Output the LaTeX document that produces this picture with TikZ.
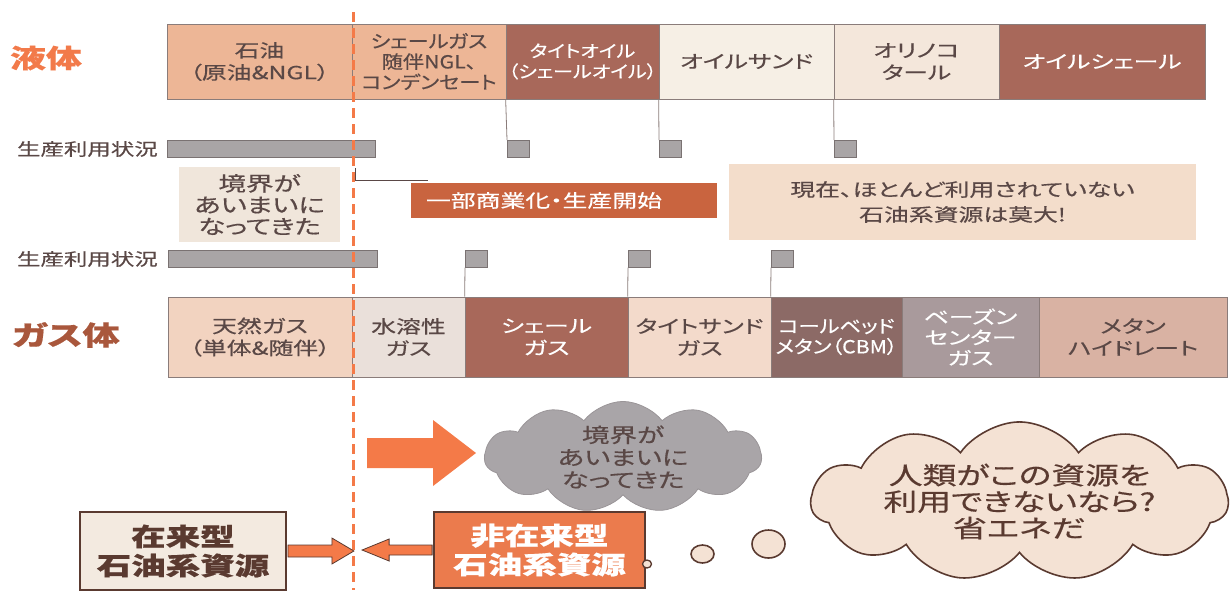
\documentclass[tikz,border=0pt]{standalone}
\usepackage{fontspec}
\setmainfont{Noto Sans CJK JP}[FakeStretch=1.38,RawFeature={+palt;embolden=0.5}]
\newfontfamily\cellfont{Noto Sans CJK JP}[FakeStretch=1.18,RawFeature={+palt;embolden=0.5}]
\usetikzlibrary{shapes.symbols,shapes.geometric,calc}
\definecolor{cPeach}{HTML}{EDB696}
\definecolor{cBrown}{HTML}{A8685A}
\definecolor{cSand}{HTML}{F6EFE5}
\definecolor{cTar}{HTML}{F4E7DB}
\definecolor{cGas}{HTML}{F2D3C0}
\definecolor{cWater}{HTML}{EAE0DA}
\definecolor{cTight}{HTML}{F3DACB}
\definecolor{cCBM}{HTML}{8C6A66}
\definecolor{cBasin}{HTML}{A99A9C}
\definecolor{cHydrate}{HTML}{D9B2A3}
\definecolor{cLine}{HTML}{8A7C7A}
\definecolor{cText}{HTML}{5A4846}
\definecolor{cBar}{HTML}{A9A5A6}
\definecolor{cBarLine}{HTML}{7A7272}
\definecolor{cComm}{HTML}{C9643F}
\definecolor{cNow}{HTML}{F3DDCB}
\definecolor{cAmb}{HTML}{F0E6DB}
\definecolor{cCloud}{HTML}{A9A5A8}
\definecolor{cCloudLine}{HTML}{9A9598}
\definecolor{cThink}{HTML}{F4E2D4}
\definecolor{cDark}{HTML}{5A3A30}
\definecolor{cOrange}{HTML}{F47A48}
\definecolor{cLiq}{HTML}{F27A4A}
\definecolor{cGasLab}{HTML}{A9573C}
\definecolor{cConv}{HTML}{F3EAE0}
\definecolor{cUnconv}{HTML}{EB7B4D}
\begin{document}
\begin{tikzpicture}[x=1pt,y=-1pt,
  cell/.style={rectangle,draw=cLine,line width=0.7pt,inner sep=0pt,align=center,
    text=cText,font=\fontsize{18}{22}\selectfont},
  narrow/.style={font=\cellfont\fontsize{18}{20.5}\selectfont},
  lcell/.style={cell,minimum height=75pt},
  gcell/.style={cell,minimum height=80pt},
  wtext/.style={text=white},
  bar/.style={rectangle,draw=cBarLine,fill=cBar,line width=0.7pt,inner sep=0pt,
    anchor=north west,minimum height=17pt},
  sq/.style={bar,minimum width=22pt},
  lab/.style={text=cText,inner sep=0pt,font=\fontsize{17}{20}\selectfont},
  conn/.style={draw=cLine,line width=0.8pt},
  dashline/.style={draw=cOrange,line width=3pt,dash pattern=on 10pt off 6pt},
  note/.style={rectangle,inner sep=0pt,align=center,font=\fontsize{18}{21}\selectfont},
  smarrow/.style={fill=cOrange,draw=cDark,line width=0.8pt,line join=miter},
  bubble/.style={ellipse,fill=cThink,draw=cDark,line width=1.6pt,inner sep=0pt},
  bigbox/.style={rectangle,draw=cDark,line width=1.8pt,inner sep=0pt,align=center,
    font=\bfseries\fontsize{25}{29}\selectfont}
]
\useasboundingbox (0,0) rectangle (1230,590);

% side labels
\node[text=cLiq,font=\bfseries\fontsize{26}{30}\selectfont,inner sep=0pt] (liq) at (46,58) {液体};
\node[text=cGasLab,font=\bfseries\fontsize{27}{30}\selectfont,inner sep=0pt] (gasl) at (66,335) {ガス体};

% liquid row
\node[lcell,fill=cPeach,minimum width=185pt] (l1) at (259.5,61.5) {石油\\（原油\&NGL）};
\node[lcell,narrow,fill=cPeach,minimum width=154pt,text width=152pt] (l2) at (429,61.5) {シェールガス\\随伴NGL、\\コンデンセート};
\node[lcell,fill=cBrown,wtext,minimum width=153pt,text width=151pt,
  font=\cellfont\fontsize{17}{20.5}\selectfont] (l3) at (582.5,61.5) {タイトオイル\\（シェールオイル）};
\node[lcell,fill=cSand,minimum width=175pt] (l4) at (746.5,61.5) {オイルサンド};
\node[lcell,fill=cTar,minimum width=165pt] (l5) at (916.5,61.5) {オリノコ\\タール};
\node[lcell,fill=cBrown,wtext,minimum width=206pt] (l6) at (1102,61.5) {オイルシェール};

% status row 1
\node[lab,anchor=east] (st1) at (158,149) {生産利用状況};
\node[bar,minimum width=208pt] (b1) at (167,140) {};
\node[sq] (s1) at (507,140) {};
\node[sq] (s2) at (659,140) {};
\node[sq] (s3) at (834,140) {};
\draw[conn] (l3.south west) -- (s1.north west);
\draw[conn] (l4.south west) -- (s2.north west);
\draw[conn] (l5.south west) -- (s3.north west);

% middle notes
\node[note,fill=cAmb,text=cText,minimum width=161pt,minimum height=75pt,
  font=\fontsize{20}{21.5}\selectfont] (amb) at (259.5,204.5) {境界が\\あいまいに\\なってきた};
\node[note,fill=cComm,text=white,text width=276pt,inner xsep=15pt,align=left,
  minimum height=35pt] (comm) at (564,200.5) {一部商業化・生産開始};
\node[note,fill=cNow,text=cText,minimum width=467pt,minimum height=76pt,
  font=\fontsize{18}{25}\selectfont] (now) at (962.5,202) {現在、ほとんど利用されていない\\石油系資源は莫大!};
\coordinate (la) at (355,168);
\coordinate (lb) at (428,180);
\draw[draw=cText,line width=1pt] (la) |- (lb);

% status row 2
\node[lab,anchor=east] (st2) at (158,259) {生産利用状況};
\node[bar,minimum width=209pt] (b2) at (168,250) {};
\node[sq] (sg1) at (465,250) {};
\node[sq] (sg2) at (628,250) {};
\node[sq] (sg3) at (771,250) {};

% gas row
\node[gcell,fill=cGas,minimum width=184pt] (g1) at (260,337) {天然ガス\\（単体\&随伴）};
\node[gcell,fill=cWater,minimum width=113pt] (g2) at (408.5,337) {水溶性\\ガス};
\node[gcell,fill=cBrown,wtext,minimum width=163pt] (g3) at (546.5,337) {シェール\\ガス};
\node[gcell,fill=cTight,minimum width=143pt,text width=141pt] (g4) at (699.5,337) {タイトサンド\\ガス};
\node[gcell,narrow,fill=cCBM,wtext,minimum width=131pt,text width=129pt] (g5) at (836.5,337) {コールベッド\\メタン（CBM）};
\node[gcell,fill=cBasin,wtext,minimum width=137pt,font=\fontsize{18}{20.5}\selectfont] (g6) at (970.5,337) {ベーズン\\センター\\ガス};
\node[gcell,fill=cHydrate,minimum width=188pt] (g7) at (1133,337) {メタン\\ハイドレート};
\draw[conn] (sg1.south west) -- (g3.north west);
\draw[conn] (sg2.south west) -- (g4.north west);
\draw[conn] (sg3.south west) -- (g5.north west);

% dashed boundary
\coordinate (dtop) at (353,12);
\coordinate (dbot) at (353,590);
\draw[dashline] (dtop) -- (dbot);

% big arrow
\fill[cOrange] (367,438) -- (433,438) -- (433,420) -- (476,453) -- (433,486) -- (433,468) -- (367,468) -- cycle;

% gray cloud
\node[cloud,cloud puffs=11,cloud puff arc=105,cloud ignores aspect,
  fill=cCloud,draw=cCloudLine,line width=0.8pt,minimum width=277pt,minimum height=93pt,
  inner sep=0pt,align=center,text=cText,font=\fontsize{20}{22.5}\selectfont] (gc) at (623,457)
  {境界が\\あいまいに\\なってきた};

% bottom boxes
\node[bigbox,fill=cConv,text=cDark,minimum width=206pt,minimum height=78pt] (zr) at (183,551) {在来型\\石油系資源};
\node[bigbox,fill=cUnconv,text=white,minimum width=211pt,minimum height=76pt] (nz) at (539.5,550) {非在来型\\石油系資源};

\draw[smarrow] ($(zr.east)+(1,-6)$) -- ++(44,0) -- ++(0,-7) -- ++(22,13) -- ++(-22,13) -- ++(0,-7) -- ++(-44,0) -- cycle;
\draw[smarrow] ($(nz.west)+(-1,-5)$) -- ++(-43,0) -- ++(0,-6) -- ++(-27,11) -- ++(27,11) -- ++(0,-6) -- ++(43,0) -- cycle;

% thought bubbles
\node[bubble,line width=1.3pt,minimum width=9pt,minimum height=8pt] (c1) at (647,564) {};
\node[bubble,minimum width=23pt,minimum height=18pt] (c2) at (702.5,554) {};
\node[bubble,minimum width=33pt,minimum height=28pt] (c3) at (768.5,544) {};
\node[cloud,cloud puffs=11,cloud puff arc=110,cloud ignores aspect,
  fill=cThink,draw=cDark,line width=1.6pt,minimum width=417pt,minimum height=153pt,
  inner sep=0pt,align=center,text=cDark,font=\fontsize{24.5}{26.5}\selectfont] (rc) at (1019.5,501.5)
  {人類がこの資源を\\利用できないなら?\\省エネだ};
\end{tikzpicture}
\end{document}
